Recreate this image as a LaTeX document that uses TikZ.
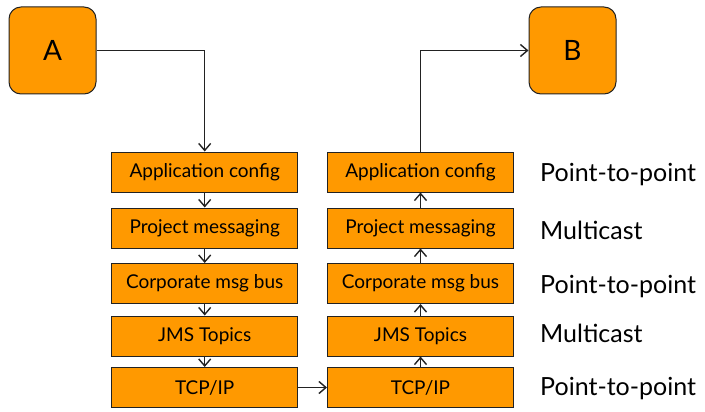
\documentclass[tikz,border=0pt]{standalone}
\usepackage{fontspec}
\setmainfont{Lato}
\usetikzlibrary{arrows.meta}
\definecolor{boxorange}{HTML}{FF9900}
\definecolor{edge}{HTML}{222222}
\begin{document}
\begin{tikzpicture}[x=1pt,y=-1pt,
  endbox/.style={draw=edge,line width=1pt,fill=boxorange,rounded corners=12pt,minimum width=87pt,minimum height=87pt,inner sep=0pt,font=\fontsize{28}{30}\selectfont},
  layerbox/.style={draw=edge,line width=1pt,fill=boxorange,minimum width=186pt,minimum height=40pt,inner sep=0pt,font=\fontsize{19}{21}\selectfont},
  modelabel/.style={anchor=west,inner sep=0pt,font=\fontsize{25}{28}\selectfont},
  conn/.style={draw=edge,line width=1.4pt,-{Straight Barb[length=7pt,width=12pt]}}]
\useasboundingbox (0,0) rectangle (705,412);
\node[endbox] (A) at (52.5,50.5) {A};
\node[endbox] (B) at (572.5,50.5) {B};
\foreach \n/\t/\y in {l1/Application config/172,l2/Project messaging/228,l3/Corporate msg bus/283.5,l4/JMS Topics/336,l5/TCP\slash IP/387.5}{
  \node[layerbox] (\n) at (204.7,\y) {\t};
}
\foreach \n/\t/\y in {r1/Application config/172,r2/Project messaging/228,r3/Corporate msg bus/283.5,r4/JMS Topics/336,r5/TCP\slash IP/387.5}{
  \node[layerbox] (\n) at (420.5,\y) {\t};
}
\node[modelabel] (m1) at (540,175) {Point-to-point};
\node[modelabel] (m2) at (540,230) {Multicast};
\node[modelabel] (m3) at (540,287) {Point-to-point};
\node[modelabel] (m4) at (540,333) {Multicast};
\node[modelabel] (m5) at (540,389) {Point-to-point};
\draw[conn] (A.east) -| (l1.north);
\draw[conn] (l1) -- (l2);
\draw[conn] (l2) -- (l3);
\draw[conn] (l3) -- (l4);
\draw[conn] (l4) -- (l5);
\draw[conn] (l5) -- (r5);
\draw[conn] (r5) -- (r4);
\draw[conn] (r4) -- (r3);
\draw[conn] (r3) -- (r2);
\draw[conn] (r2) -- (r1);
\draw[conn] (r1.north) |- (B.west);
\end{tikzpicture}
\end{document}
